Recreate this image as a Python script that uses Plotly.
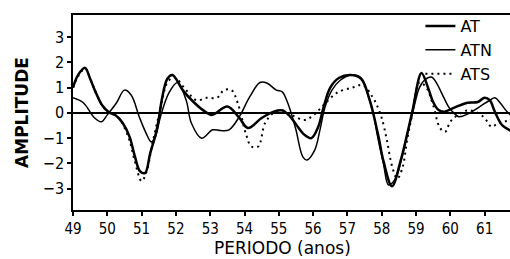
import plotly.graph_objects as go

# ---- data ----
at_x = [49.0, 49.15, 49.35, 49.5, 49.65, 49.85, 50.05, 50.25, 50.45, 50.65, 50.8, 50.95, 51.1,
        51.25, 51.4, 51.5, 51.6, 51.75, 51.9, 52.2, 52.5, 52.8, 53.05, 53.5, 53.85, 54.1, 54.5,
        54.85, 55.1, 55.3, 55.5, 55.75, 55.95, 56.15, 56.3, 56.5, 56.75, 57.1, 57.4, 57.65, 57.9,
        58.05, 58.3, 58.55, 58.75, 58.9, 59.16, 59.35, 59.5, 59.65, 59.8, 60.1, 60.5, 60.8, 61.0,
        61.15, 61.3, 61.5, 61.75]
at_y = [1.0, 1.5, 1.78, 1.35, 0.85, 0.3, 0.02, -0.1, -0.4, -0.95, -1.7, -2.3, -2.38,
        -1.6, -0.9, -0.25, 0.6, 1.35, 1.5, 0.9, 0.45, 0.1, -0.08, 0.25, -0.2, -0.6, -0.2,
        0.05, 0.1, -0.1, -0.45, -0.87, -1.0, -0.55, 0.2, 1.0, 1.38, 1.5, 1.35, 0.5, -0.9,
        -1.9, -2.9, -1.9, -0.8, 0.1, 1.58, 1.0, 0.43, 0.12, 0.04, 0.2, 0.4, 0.43, 0.6,
        0.5, 0.04, -0.47, -0.7]

atn_x = [49.0, 49.3, 49.63, 49.83, 50.0, 50.27, 50.5, 50.7, 50.93, 51.13, 51.28, 51.4, 51.55,
         51.8, 52.05, 52.3, 52.45, 52.75, 53.07, 53.3, 53.55, 53.85, 54.15, 54.45, 54.65, 54.93,
         55.1, 55.25, 55.35, 55.5, 55.7, 55.82, 56.05, 56.2, 56.35, 56.55, 56.8, 57.1, 57.4, 57.6,
         57.75, 57.9, 58.05, 58.2, 58.4, 58.6, 58.75, 58.9, 59.1, 59.25, 59.45, 59.6, 59.8, 59.95,
         60.1, 60.25, 60.5, 60.85, 61.15, 61.3, 61.45, 61.65, 61.75]
atn_y = [0.6, 0.4, -0.2, -0.35, -0.08, 0.4, 0.9, 0.7, -0.15, -0.8, -1.15, -0.95, -0.15,
         0.8, 1.2, 0.5, -0.4, -1.0, -0.67, -0.7, -0.67, -0.15, 0.63, 1.2, 1.18, 0.9,
         0.83, 0.43, 0.04, -0.67, -1.74, -1.86, -1.46, -0.67, 0.24, 0.9, 1.3, 1.5, 1.38, 0.7,
         0.0, -1.07, -2.0, -2.85, -2.6, -1.7, -0.8, 0.0, 1.0, 1.3, 1.42, 1.18, 0.63, 0.24,
         0.0, -0.15, -0.05, 0.24, 0.5, 0.6, 0.4, 0.05, -0.08]

ats_x = [49.0, 49.15, 49.35, 49.5, 49.65, 49.85, 50.05, 50.25, 50.45, 50.65, 50.8, 51.0, 51.15,
         51.3, 51.45, 51.6, 51.75, 51.95, 52.3, 52.6, 52.9, 53.2, 53.4, 53.62, 53.8, 54.05, 54.2,
         54.4, 54.6, 54.85, 55.1, 55.4, 55.75, 56.0, 56.3, 56.7, 57.15, 57.45, 57.73, 57.88, 58.0,
         58.15, 58.3, 58.45, 58.6, 58.75, 58.9, 59.1, 59.3, 59.5, 59.7, 59.85, 60.0, 60.2, 60.5,
         60.8, 61.0, 61.2, 61.4, 61.75]
ats_y = [1.0, 1.45, 1.75, 1.35, 0.85, 0.3, 0.0, -0.1, -0.45, -1.1, -1.9, -2.7, -2.3,
         -1.3, -0.4, 0.5, 1.2, 1.4, 0.9, 0.5, 0.6, 0.6, 0.9, 0.9, 0.4, -0.87, -1.33,
         -1.33, -0.4, 0.0, 0.1, -0.1, -0.28, -0.1, 0.3, 0.8, 1.0, 1.1, 0.63, 0.24, -0.2,
         -1.07, -2.1, -2.6, -2.2, -1.0, 0.0, 1.2, 1.0, 0.3, -0.6, -0.75, -0.35, -0.1, 0.1,
         0.0, -0.2, -0.55, -0.4, -0.3]

x_ticks = list(range(49, 62))
y_ticks = [-3, -2, -1, 0, 1, 2, 3]

narrow = "DejaVu Sans Condensed, Liberation Sans Narrow, sans-serif"

fig = go.Figure()
fig.add_trace(go.Scatter(x=at_x, y=at_y, name="AT", mode="lines", line_shape="spline",
                         line=dict(color="black", width=2.5)))
fig.add_trace(go.Scatter(x=atn_x, y=atn_y, name="ATN", mode="lines", line_shape="spline",
                         line=dict(color="black", width=1.5)))
fig.add_trace(go.Scatter(x=ats_x, y=ats_y, name="ATS", mode="lines", line_shape="spline",
                         line=dict(color="black", width=2, dash="2px,4px")))

fig.update_layout(
    width=510, height=259,
    margin=dict(l=73, r=0, t=15, b=49),
    paper_bgcolor="white", plot_bgcolor="white",
    font=dict(family=narrow, size=15, color="black"),
    showlegend=True,
    legend=dict(x=0.795, y=1.03, xanchor="left", yanchor="top", bgcolor="rgba(0,0,0,0)",
                font=dict(family="DejaVu Sans, sans-serif", size=16, color="black"),
                itemwidth=30, tracegroupgap=0),
    xaxis=dict(range=[49, 61.74], tickvals=x_ticks, ticktext=[str(v) for v in x_ticks],
               showgrid=False, zeroline=False, showline=True, linecolor="black", linewidth=1.5,
               mirror=True, ticks="outside", ticklen=4, tickwidth=1.5, tickcolor="black",
               tickfont=dict(family=narrow, size=15)),
    yaxis=dict(range=[-3.84, 3.87], tickvals=y_ticks,
               showgrid=False, zeroline=True, zerolinecolor="black", zerolinewidth=1.5,
               showline=True, linecolor="black", linewidth=1.5, mirror=False,
               ticks="outside", ticklen=4, tickwidth=1.5, tickcolor="black",
               tickfont=dict(family=narrow, size=16),
               title=dict(text="<b>AMPLITUDE</b>", standoff=10,
                          font=dict(family="DejaVu Sans, sans-serif", size=17))),
    annotations=[dict(text="PERIODO (anos)", xref="paper", yref="paper",
                      x=0.48, y=-0.197, xanchor="center", yanchor="middle", showarrow=False,
                      font=dict(family="DejaVu Sans, sans-serif", size=17, color="black"))],
)

fig.write_html("out.html", config={"displayModeBar": False},
               post_script="document.body.style.margin='0';")
